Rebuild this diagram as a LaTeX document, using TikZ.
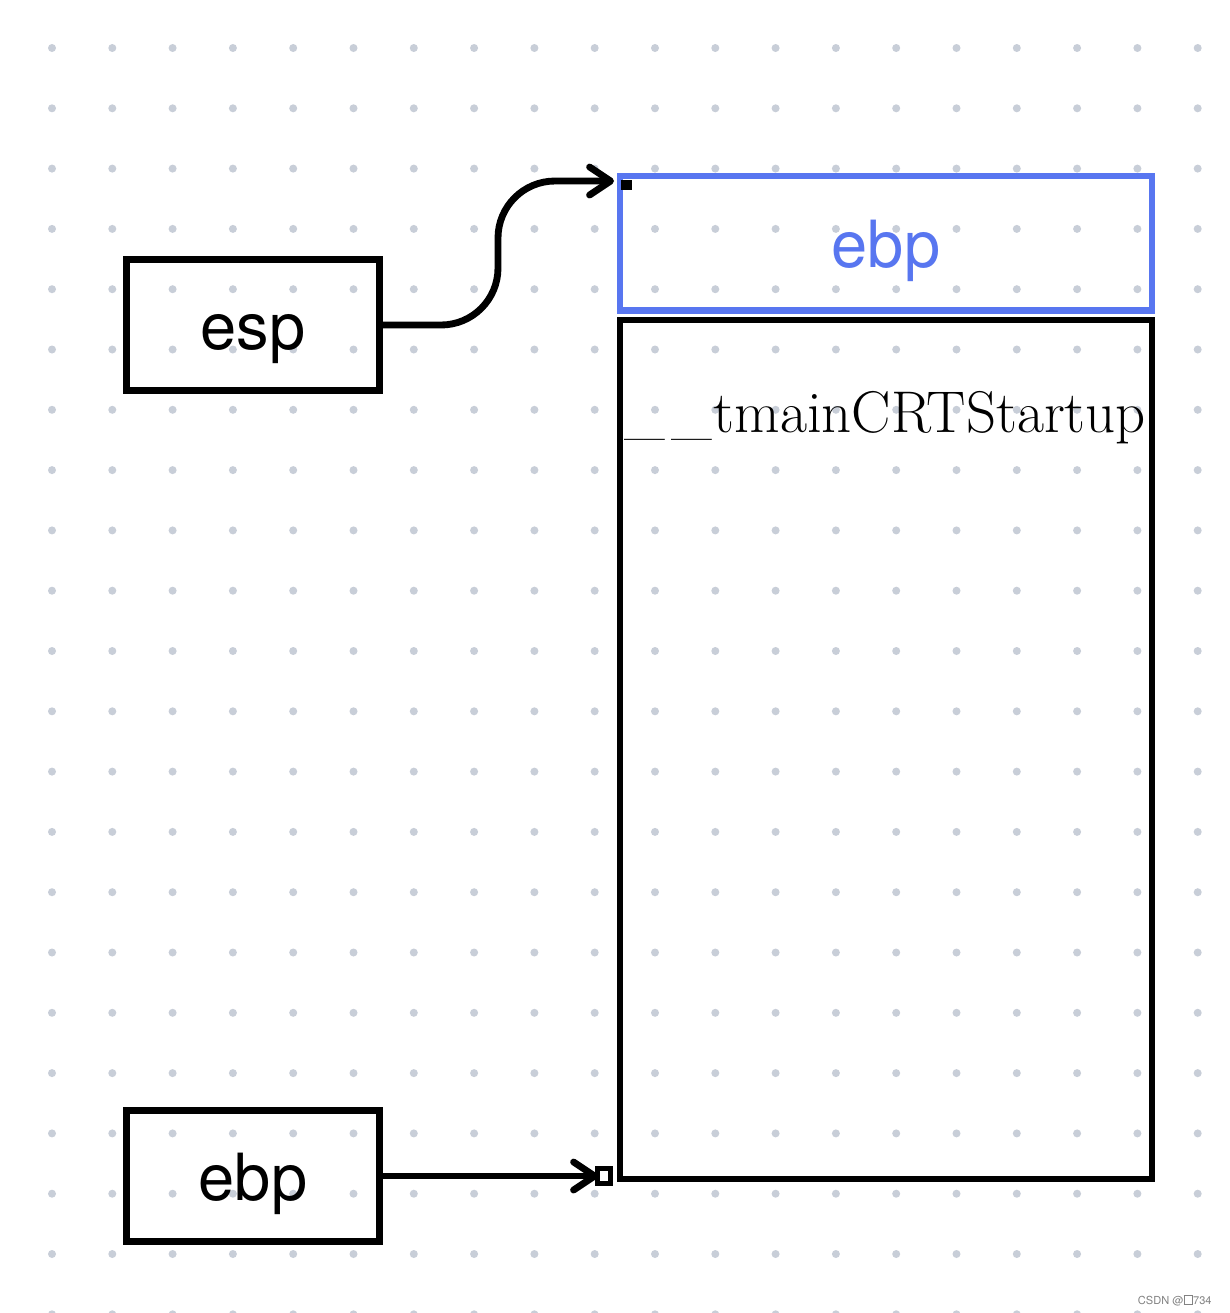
\documentclass[tikz,border=0pt]{standalone}
\usepackage{fontspec}
\usepackage{xcolor}
\usepackage{tikz}
\newfontfamily\labelfont{TeX Gyre Heros}
\definecolor{dotcolor}{RGB}{200,206,216}
\definecolor{slotblue}{RGB}{88,118,240}
\definecolor{markgray}{RGB}{130,130,130}
\usetikzlibrary{arrows.meta}

\begin{document}
\begin{tikzpicture}[line width=3.9pt,
    regbox/.style={draw, minimum width=5.06cm, minimum height=2.62cm, inner sep=0pt,
      text height=1.22cm, text depth=0.26cm, font=\labelfont\fontsize{37}{40}\selectfont},
    chev/.style={-{Straight Barb[length=0.42cm, width=0.56cm, round]}}]
    \useasboundingbox (0,0) rectangle (24.6,-26.26);
    \fill[white] (0,0) rectangle (24.6,-26.26);
    % dotted canvas grid
    \foreach \i in {0,...,19}
      \foreach \j in {0,...,21}
        \fill[dotcolor] (1.04+\i*1.206,-0.96-\j*1.206) circle (0.08);
    % registers
    \node[regbox] (esp) at (5.06,-6.5) {esp};
    \node[regbox] (ebpreg) at (5.06,-23.52) {ebp};
    % stack: saved ebp slot and the frame below it
    \node[regbox, draw=slotblue, minimum width=10.64cm, minimum height=2.69cm,
      text=slotblue] (ebpslot) at (17.72,-4.865) {ebp};
    \node[draw, minimum width=10.64cm, minimum height=17.18cm, inner sep=0pt] (mainframe) at (17.72,-14.99) {};
    \node[anchor=base, font=\fontsize{33.5}{36}\selectfont] (framename) at (17.7,-8.64)
      {\_\kern0.12em\_\kern0.02em tmainCRTStartup};
    % esp -> top of stack, ebp -> bottom of frame
    \coordinate (esptip) at (12.28,-3.62);
    \coordinate (ebptip) at (11.96,-23.52);
    \draw[chev] (esp.east) -- (8.82,-6.5) .. controls (9.45,-6.5) and (9.96,-5.99) .. (9.96,-5.36)
      -- (9.96,-4.76) .. controls (9.96,-4.13) and (10.47,-3.62) .. (11.1,-3.62) -- (esptip);
    \draw[chev] (ebpreg.east) -- (ebptip);
    % selection handles
    \fill (12.42,-3.6) rectangle (12.64,-3.8);
    \draw[line width=2.4pt, fill=white] (11.95,-23.37) rectangle (12.21,-23.67);
    \node[anchor=base east, inner sep=0pt, text=markgray, font=\labelfont\fontsize{6.3}{7}\selectfont] (mark) at (24.3,-26.08)
      {CSDN @\raisebox{-0.2pt}{\fboxsep=0pt\fboxrule=0.4pt\fbox{\rule{0pt}{5pt}\hspace{4.6pt}}}734};
  \end{tikzpicture}
\end{document}
